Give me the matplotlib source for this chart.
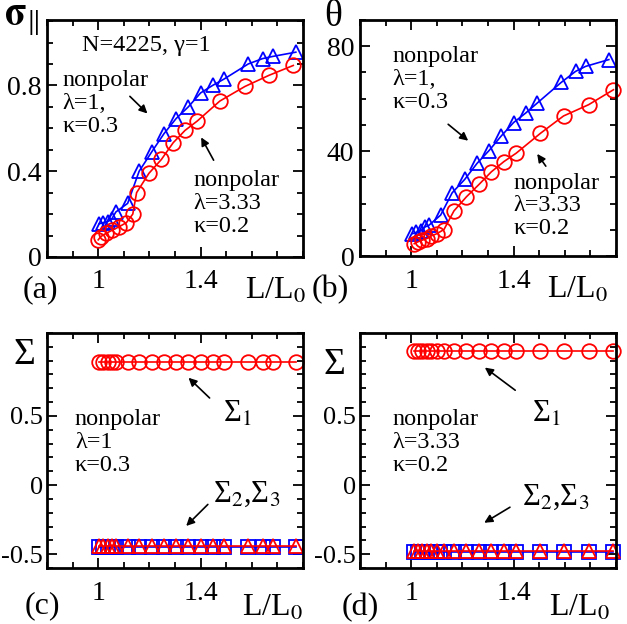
import matplotlib
matplotlib.use('Agg')
import matplotlib.pyplot as plt
from matplotlib.ticker import MultipleLocator

plt.rcParams['font.family'] = ['Liberation Serif', 'DejaVu Serif']
plt.rcParams['mathtext.fontset'] = 'stix'

# lambda=1, kappa=0.3 (triangles)
x_l1 = [1.004, 1.02, 1.037, 1.052, 1.069, 1.115, 1.16, 1.209, 1.257, 1.304,
        1.352, 1.40, 1.447, 1.492, 1.586, 1.642, 1.681, 1.772]
sig_l1 = [0.155, 0.16, 0.165, 0.175, 0.21, 0.25, 0.40, 0.49, 0.575, 0.645,
          0.70, 0.765, 0.80, 0.83, 0.90, 0.925, 0.935, 0.955]
theta_l1 = [8.5, 9.0, 9.6, 11.0, 11.7, 15.6, 24.1, 29.2, 35.3, 40.2,
            45.8, 50.9, 54.5, 58.3, 66.2, 70.4, 72.3, 74.9]
S1_l1 = [0.893] * 18
S2_l1 = [-0.44] * 18
S3_l1 = [-0.445] * 18

# lambda=3.33, kappa=0.2 (circles)
x_l3_a = [1.0, 1.01, 1.03, 1.055, 1.08, 1.11, 1.135, 1.15, 1.198, 1.247,
          1.293, 1.339, 1.387, 1.475, 1.573, 1.667, 1.762]
sig_l3 = [0.08, 0.095, 0.11, 0.125, 0.14, 0.16, 0.20, 0.30, 0.39, 0.455,
          0.533, 0.59, 0.634, 0.727, 0.795, 0.847, 0.893]
x_l3 = [1.012, 1.026, 1.042, 1.06, 1.079, 1.10, 1.128, 1.167, 1.216, 1.265,
        1.313, 1.362, 1.41, 1.505, 1.595, 1.693, 1.79]
theta_l3 = [4.7, 5.4, 6.0, 6.6, 7.7, 8.5, 10.1, 17.2, 22.6, 27.3,
            32.1, 36.0, 39.2, 46.8, 53.4, 57.7, 63.4]
S1_l3 = [0.97] * 17
S2_l3 = [-0.476] * 17
S3_l3 = [-0.483] * 17

RED = '#ff0000'
BLUE = '#0000ff'
FS = 17.5
TFS = 20

fig = plt.figure(figsize=(6.27, 6.24), dpi=100)
W, H = 627.0, 624.0


def make_ax(left, top, right, bottom):
    return fig.add_axes([left / W, 1 - bottom / H, (right - left) / W, (bottom - top) / H])


ax_a = make_ax(47, 20, 303, 257)
ax_b = make_ax(360, 20, 616, 256)
ax_c = make_ax(47, 333, 303, 568)
ax_d = make_ax(360, 333, 616, 568)


def style(ax, ymaj, ymin):
    ax.set_xlim(0.8, 1.8)
    ax.xaxis.set_major_locator(MultipleLocator(0.4))
    ax.xaxis.set_minor_locator(MultipleLocator(0.1))
    ax.yaxis.set_major_locator(MultipleLocator(ymaj))
    ax.yaxis.set_minor_locator(MultipleLocator(ymin))
    ax.tick_params(which='both', direction='in', top=True, right=True,
                   labelsize=TFS, width=1.3)
    ax.tick_params(which='major', length=7)
    ax.tick_params(axis='x', which='major', pad=9)
    ax.tick_params(axis='y', which='major', pad=4)
    ax.tick_params(which='minor', length=4)
    for s in ax.spines.values():
        s.set_linewidth(2)


mk = dict(mfc='none', ms=10.5, mew=1.3, lw=1.2)
mk_sq = dict(mfc='none', ms=9.5, mew=1.3, lw=1.2)
arr = dict(arrowstyle='-|>', color='black', lw=1.2, mutation_scale=12)

# (a)
ax_a.plot(x_l1, sig_l1, '^-', color=BLUE, mec=BLUE, **mk)
ax_a.plot(x_l3_a, sig_l3, 'o-', color=RED, mec=RED, **mk)
style(ax_a, 0.4, 0.1)
ax_a.set_ylim(0, 1.105)
ax_a.set_xticks([1.0, 1.4])
ax_a.set_xticklabels(['1', '1.4'])
ax_a.set_yticks([0, 0.4, 0.8])
ax_a.set_yticklabels(['0', '0.4', '0.8'])
ax_a.text(1.189, 0.987, 'N=4225, γ=1', fontsize=FS, ha='center', va='center')
ax_a.text(0.862, 0.87, 'nonpolar\nλ=1,\nκ=0.3', fontsize=FS, ha='left', va='top', linespacing=1.1)
ax_a.text(1.371, 0.404, 'nonpolar\nλ=3.33\nκ=0.2', fontsize=FS, ha='left', va='top', linespacing=1.1)
ax_a.annotate('', xy=(1.2, 0.66), xytext=(1.116, 0.758), arrowprops=arr)
ax_a.annotate('', xy=(1.397, 0.569), xytext=(1.456, 0.44), arrowprops=arr)
ax_a.text(-0.098, 1.0, r'$\mathbf{\sigma}_{\|}$', transform=ax_a.transAxes, fontsize=28, ha='center', va='center')
ax_a.text(-0.027, -0.139, '(a)', transform=ax_a.transAxes, fontsize=23, ha='center', va='center')
ax_a.text(0.773, -0.145, 'L/L$_0$', transform=ax_a.transAxes, fontsize=23, ha='left', va='center')

# (b)
ax_b.plot(x_l1, theta_l1, '^-', color=BLUE, mec=BLUE, **mk)
ax_b.plot(x_l3, theta_l3, 'o-', color=RED, mec=RED, **mk)
style(ax_b, 40, 10)
ax_b.set_ylim(0, 90)
ax_b.set_xticks([1.0, 1.4])
ax_b.set_xticklabels(['1', '1.4'])
ax_b.set_yticks([0, 40, 80])
ax_b.text(0.927, 79.9, 'nonpolar\nλ=1,\nκ=0.3', fontsize=FS, ha='left', va='top', linespacing=1.1)
ax_b.text(1.398, 31.7, 'nonpolar\nλ=3.33\nκ=0.2', fontsize=FS, ha='left', va='top', linespacing=1.1)
ax_b.annotate('', xy=(1.231, 43.3), xytext=(1.136, 50.9), arrowprops=arr)
ax_b.annotate('', xy=(1.486, 39.8), xytext=(1.532, 33.4), arrowprops=arr)
ax_b.text(-0.105, 1.013, 'θ', transform=ax_b.transAxes, fontsize=27, ha='center', va='center')
ax_b.text(-0.117, -0.144, '(b)', transform=ax_b.transAxes, fontsize=23, ha='center', va='center')
ax_b.text(0.73, -0.145, 'L/L$_0$', transform=ax_b.transAxes, fontsize=23, ha='left', va='center')

# (c) and (d)
for ax, x, s1, s2, s3 in [(ax_c, x_l1, S1_l1, S2_l1, S3_l1), (ax_d, x_l3, S1_l3, S2_l3, S3_l3)]:
    ax.plot(x, s3, 's-', color=BLUE, mec=BLUE, **mk_sq)
    ax.plot(x, s2, '^-', color=RED, mec=RED, **mk)
    ax.plot(x, s1, 'o-', color=RED, mec=RED, **mk)
    style(ax, 0.5, 0.1)
    ax.set_ylim(-0.6, 1.1)
    ax.set_xticks([1.0, 1.4])
    ax.set_xticklabels(['1', '1.4'])
    ax.set_yticks([-0.5, 0, 0.5])
    ax.set_yticklabels(['-0.5', '0', '0.5'])
    ax.tick_params(axis='y', which='major', labelsize=19, pad=3)

ax_c.text(0.909, 0.548, 'nonpolar\nλ=1\nκ=0.3', fontsize=FS, ha='left', va='top', linespacing=1.1)
ax_c.text(1.487, 0.512, 'Σ$_1$', fontsize=22, ha='left', va='center')
ax_c.text(1.449, -0.066, 'Σ$_2$,Σ$_3$', fontsize=22, ha='left', va='center')
ax_c.annotate('', xy=(1.345, 0.79), xytext=(1.443, 0.616), arrowprops=arr)
ax_c.annotate('', xy=(1.336, -0.31), xytext=(1.436, -0.126), arrowprops=arr)
ax_c.text(-0.09, 0.906, 'Σ', transform=ax_c.transAxes, fontsize=27, ha='center', va='center')
ax_c.text(-0.02, -0.16, '(c)', transform=ax_c.transAxes, fontsize=23, ha='center', va='center')
ax_c.text(0.76, -0.172, 'L/L$_0$', transform=ax_c.transAxes, fontsize=23, ha='left', va='center')

ax_d.text(0.926, 0.548, 'nonpolar\nλ=3.33\nκ=0.2', fontsize=FS, ha='left', va='top', linespacing=1.1)
ax_d.text(1.471, 0.512, 'Σ$_1$', fontsize=22, ha='left', va='center')
ax_d.text(1.433, -0.088, 'Σ$_2$,Σ$_3$', fontsize=22, ha='left', va='center')
ax_d.annotate('', xy=(1.279, 0.862), xytext=(1.415, 0.674), arrowprops=arr)
ax_d.annotate('', xy=(1.276, -0.283), xytext=(1.395, -0.15), arrowprops=arr)
ax_d.text(-0.10, 0.864, 'Σ', transform=ax_d.transAxes, fontsize=27, ha='center', va='center')
ax_d.text(0.0, -0.168, '(d)', transform=ax_d.transAxes, fontsize=23, ha='center', va='center')
ax_d.text(0.74, -0.172, 'L/L$_0$', transform=ax_d.transAxes, fontsize=23, ha='left', va='center')

for ax in [ax_a, ax_b, ax_c, ax_d]:
    for ln in ax.lines:
        ln.set_clip_on(False)

fig.savefig('out.png', dpi=100)
